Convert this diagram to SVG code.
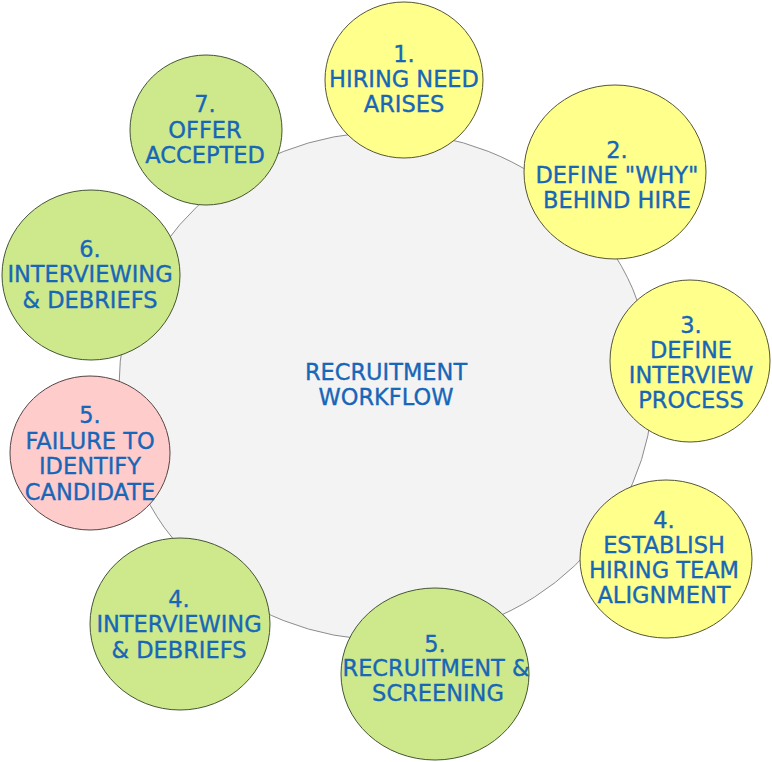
<svg xmlns="http://www.w3.org/2000/svg" width="772" height="762" viewBox="0 0 772 762">
<style>
.bg{fill:#f3f3f3;stroke:#8c8c8c;stroke-width:1}
.y{fill:#ffff8c;stroke:#555533;stroke-width:1}
.g{fill:#cde98c;stroke:#445533;stroke-width:1}
.p{fill:#ffcccc;stroke:#554444;stroke-width:1}
text{font-family:"DejaVu Sans",Verdana,sans-serif;font-size:22.5px;fill:#1766b8;stroke:#1766b8;stroke-width:0.35;text-anchor:middle}
</style>
<rect width="772" height="762" fill="#ffffff"/>
<g id="connectors"></g>
<g id="center">
<ellipse class="bg" cx="386" cy="386" rx="267" ry="254"/>
<text x="386" y="380">RECRUITMENT</text>
<text x="386" y="405">WORKFLOW</text>
</g>
<g id="n1">
<ellipse class="y" cx="404" cy="80" rx="79" ry="78"/>
<text x="404" y="62">1.</text>
<text x="404" y="87">HIRING NEED</text>
<text x="404" y="112">ARISES</text>
</g>
<g id="n2">
<ellipse class="y" cx="615" cy="172" rx="91" ry="87"/>
<text x="617" y="158">2.</text>
<text x="617" y="183">DEFINE "WHY"</text>
<text x="617" y="208">BEHIND HIRE</text>
</g>
<g id="n3">
<ellipse class="y" cx="690" cy="361" rx="80" ry="81"/>
<text x="691" y="333">3.</text>
<text x="691" y="358">DEFINE</text>
<text x="691" y="383">INTERVIEW</text>
<text x="691" y="408">PROCESS</text>
</g>
<g id="n4">
<ellipse class="y" cx="666" cy="559" rx="86" ry="79"/>
<text x="664" y="528">4.</text>
<text x="664" y="553">ESTABLISH</text>
<text x="664" y="578">HIRING TEAM</text>
<text x="664" y="603">ALIGNMENT</text>
</g>
<g id="n5">
<ellipse class="g" cx="435" cy="674" rx="94" ry="86"/>
<text x="435" y="652">5.</text>
<text x="436" y="676">RECRUITMENT &amp;</text>
<text x="438" y="701">SCREENING</text>
</g>
<g id="n4b">
<ellipse class="g" cx="180" cy="624" rx="90" ry="86"/>
<text x="179" y="607">4.</text>
<text x="179" y="632">INTERVIEWING</text>
<text x="179" y="658">&amp; DEBRIEFS</text>
</g>
<g id="n5b">
<ellipse class="p" cx="90" cy="453" rx="80" ry="77"/>
<text x="90" y="423">5.</text>
<text x="90" y="449">FAILURE TO</text>
<text x="90" y="474">IDENTIFY</text>
<text x="90" y="500">CANDIDATE</text>
</g>
<g id="n6">
<ellipse class="g" cx="91" cy="275" rx="89" ry="85"/>
<text x="90" y="257">6.</text>
<text x="90" y="282">INTERVIEWING</text>
<text x="90" y="308">&amp; DEBRIEFS</text>
</g>
<g id="n7">
<ellipse class="g" cx="206" cy="130" rx="76" ry="75"/>
<text x="205" y="112">7.</text>
<text x="205" y="138">OFFER</text>
<text x="205" y="163">ACCEPTED</text>
</g>
</svg>
